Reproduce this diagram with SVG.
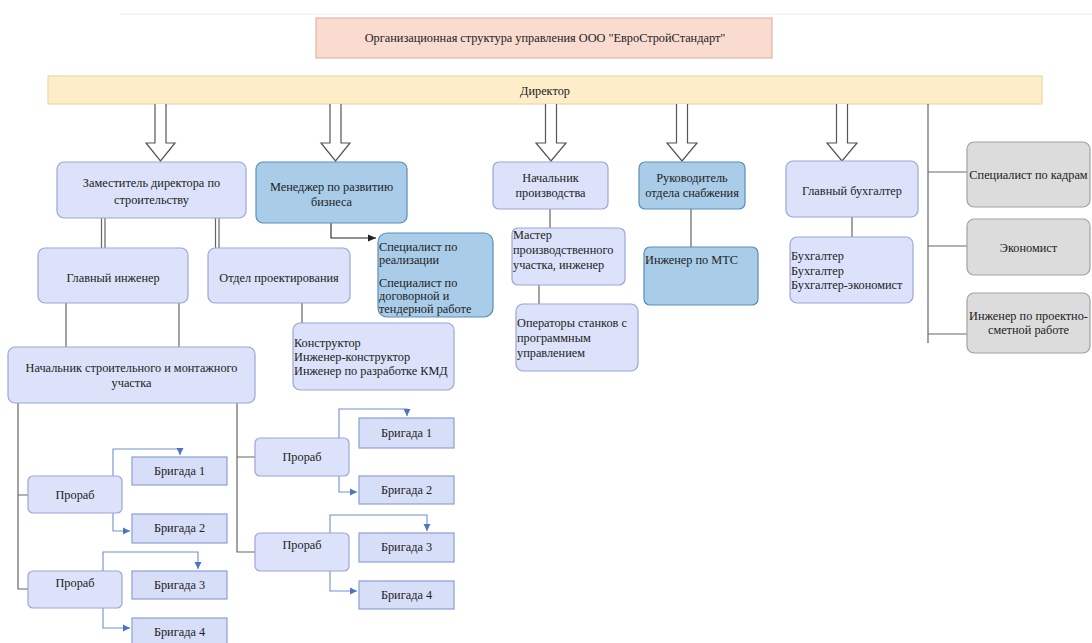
<svg xmlns="http://www.w3.org/2000/svg" width="1092" height="643" viewBox="0 0 1092 643" font-family="'Liberation Serif', serif" font-size="12.3">
<defs>
<style>
text{font-family:'Liberation Serif',serif;font-size:12.3px;fill:#222}
.c{text-anchor:middle}
.lav{fill:#dce2fa;stroke:#9ba6d9;stroke-width:1.2}
.blu{fill:#a9cce8;stroke:#5a8db8;stroke-width:1.2}
.gry{fill:#dcdcdc;stroke:#a2a2a2;stroke-width:1.2}
.brg{fill:#d7def7;stroke:#8e9ed6;stroke-width:1.2}
.ln{fill:none;stroke:#666;stroke-width:1.2}
.bl{fill:none;stroke:#6f8fcf;stroke-width:1.1}
.hol{fill:#fff;stroke:#555;stroke-width:1.2}
</style>
<marker id="ab" markerWidth="8" markerHeight="8" refX="7" refY="4" orient="auto" markerUnits="userSpaceOnUse"><path d="M0,0.5 L7,4 L0,7.5 Z" fill="#4f74c0"/></marker>
<marker id="ak" markerWidth="9" markerHeight="8" refX="8" refY="4" orient="auto" markerUnits="userSpaceOnUse"><path d="M0,0.5 L8,4 L0,7.5 Z" fill="#222"/></marker>
</defs>
<rect width="1092" height="643" fill="#fff"/>
<line x1="120" y1="14" x2="1092" y2="14" stroke="#ececec" stroke-width="1"/>

<g id="title"><rect x="316" y="18" width="456" height="40" fill="#fadbd0" stroke="#e3b3a3" stroke-width="1.2"/><text class="c" x="545" y="42">Организационная структура управления ООО "ЕвроСтройСтандарт"</text></g>
<g id="director"><rect x="48" y="76" width="994" height="28" fill="#fdeec9" stroke="#efd7a8" stroke-width="1.2"/><text class="c" x="545" y="95">Директор</text></g>

<g id="connectors">
<path class="hol" d="M155,104 V143 H146 L160.5,161 L175,143 H166 V104"/>
<path class="hol" d="M330,104 V143 H321 L335.5,161 L350,143 H341 V104"/>
<path class="hol" d="M545.5,104 V143 H536 L551,161 L566,143 H556.5 V104"/>
<path class="hol" d="M676.5,104 V143 H667 L682,161 L697,143 H687.5 V104"/>
<path class="hol" d="M836.5,104 V143 H827 L842,161 L857,143 H847.5 V104"/>
<path class="ln" d="M928,104 V343 M928,172 H967 M928,246 H967 M928,334 H967"/>
<path class="ln" d="M101.5,218 V248 M105,218 V248 M215.5,218 V248 M219,218 V248"/>
<path class="ln" d="M66,303 V347 M179,303 V347 M302,303 V323"/>
<path d="M331,223 V238 H376" fill="none" stroke="#222" stroke-width="1.1" marker-end="url(#ak)"/>
<path class="ln" d="M550,209 V228 M539,285 V304 M691,209 V247 M852,217 V237"/>
<path class="ln" d="M18,403 V589 H28 M18,495 H28 M237,403 V552 H255 M237,457 H255" stroke-width="1" stroke="#8a8a8a"/>
<path class="bl" d="M113,476 V449 H180 V455" marker-end="url(#ab)"/>
<path class="bl" d="M113,513 V531 H130" marker-end="url(#ab)"/>
<path class="bl" d="M103,571 V552 H198 V569" marker-end="url(#ab)"/>
<path class="bl" d="M103,608 V628 H130" marker-end="url(#ab)"/>
<path class="bl" d="M339,438 V409 H407 V416" marker-end="url(#ab)"/>
<path class="bl" d="M339,476 V492 H357" marker-end="url(#ab)"/>
<path class="bl" d="M330,533 V515 H427 V531" marker-end="url(#ab)"/>
<path class="bl" d="M330,571 V591 H357" marker-end="url(#ab)"/>
</g>

<g id="n-zam"><rect class="lav" x="57" y="162" width="189" height="56" rx="7"/><text class="c" x="151.5" y="187">Заместитель директора по</text><text class="c" x="151.5" y="204">строительству</text></g>
<g id="n-manager"><rect class="blu" x="256" y="162" width="151" height="61" rx="7"/><text class="c" x="331.5" y="191">Менеджер по развитию</text><text class="c" x="331.5" y="206">бизнеса</text></g>
<g id="n-nachprod"><rect class="lav" x="493" y="162" width="115" height="47" rx="6"/><text class="c" x="550.5" y="182">Начальник</text><text class="c" x="550.5" y="197">производства</text></g>
<g id="n-snab"><rect class="blu" x="639" y="162" width="106" height="47" rx="6"/><text class="c" x="692" y="182">Руководитель</text><text class="c" x="692" y="197">отдела снабжения</text></g>
<g id="n-glbuh"><rect class="lav" x="786" y="161" width="132" height="56" rx="7"/><text class="c" x="852" y="195">Главный бухгалтер</text></g>
<g id="n-kadry"><rect class="gry" x="967" y="142" width="123" height="65" rx="7"/><text class="c" x="1028.5" y="179">Специалист по кадрам</text></g>
<g id="n-econ"><rect class="gry" x="967" y="219" width="123" height="56" rx="7"/><text class="c" x="1028.5" y="252">Экономист</text></g>
<g id="n-smeta"><rect class="gry" x="967" y="293" width="123" height="60" rx="7"/><text class="c" x="1028.5" y="320">Инженер по проектно-</text><text class="c" x="1028.5" y="334">сметной работе</text></g>
<g id="n-buh"><rect class="lav" x="790" y="237" width="123" height="66" rx="7"/><text x="791" y="260">Бухгалтер</text><text x="791" y="275">Бухгалтер</text><text x="791" y="289">Бухгалтер-экономист</text></g>
<g id="n-mts"><rect class="blu" x="644" y="247" width="114" height="58" rx="6"/><text x="645" y="264">Инженер по МТС</text></g>
<g id="n-master"><rect class="lav" x="512" y="228" width="113" height="57" rx="6"/><text x="513" y="239">Мастер</text><text x="513" y="254">производственного</text><text x="513" y="269">участка, инженер</text></g>
<g id="n-oper"><rect class="lav" x="516" y="304" width="122" height="67" rx="7"/><text x="517" y="327">Операторы станков с</text><text x="517" y="342">программным</text><text x="517" y="357">управлением</text></g>
<g id="n-spec"><rect class="blu" x="378" y="233" width="115" height="84" rx="9"/><text x="379" y="251">Специалист по</text><text x="379" y="264">реализации</text><text x="379" y="287">Специалист по</text><text x="379" y="300">договорной и</text><text x="379" y="313">тендерной работе</text></g>
<g id="n-glinzh"><rect class="lav" x="38" y="248" width="150" height="55" rx="7"/><text class="c" x="113" y="282">Главный инженер</text></g>
<g id="n-proekt"><rect class="lav" x="208" y="248" width="142" height="55" rx="7"/><text class="c" x="279" y="282">Отдел проектирования</text></g>
<g id="n-konstr"><rect class="lav" x="293" y="323" width="161" height="67" rx="7"/><text x="294" y="347">Конструктор</text><text x="294" y="361">Инженер-конструктор</text><text x="294" y="375">Инженер по разработке КМД</text></g>
<g id="n-nachuch"><rect class="lav" x="8" y="347" width="247" height="56" rx="7"/><text class="c" x="131.5" y="372">Начальник строительного и монтажного</text><text class="c" x="131.5" y="387">участка</text></g>

<g id="n-prorab-l1"><rect class="lav" x="28" y="476" width="94" height="37" rx="5"/><text class="c" x="75" y="499">Прораб</text></g>
<g id="n-prorab-l2"><rect class="lav" x="28" y="571" width="94" height="37" rx="5"/><text class="c" x="75" y="587">Прораб</text></g>
<g id="n-prorab-m1"><rect class="lav" x="255" y="438" width="94" height="38" rx="5"/><text class="c" x="302" y="461">Прораб</text></g>
<g id="n-prorab-m2"><rect class="lav" x="255" y="533" width="94" height="38" rx="5"/><text class="c" x="302" y="549">Прораб</text></g>

<g id="n-br-l1"><rect class="brg" x="132" y="457" width="95" height="28"/><text class="c" x="179.5" y="475">Бригада 1</text></g>
<g id="n-br-l2"><rect class="brg" x="132" y="514" width="95" height="29"/><text class="c" x="179.5" y="532">Бригада 2</text></g>
<g id="n-br-l3"><rect class="brg" x="132" y="571" width="95" height="28"/><text class="c" x="179.5" y="589">Бригада 3</text></g>
<g id="n-br-l4"><rect class="brg" x="132" y="618" width="95" height="28"/><text class="c" x="179.5" y="636">Бригада 4</text></g>
<g id="n-br-m1"><rect class="brg" x="359" y="418" width="95" height="30"/><text class="c" x="406.5" y="437">Бригада 1</text></g>
<g id="n-br-m2"><rect class="brg" x="359" y="476" width="95" height="28"/><text class="c" x="406.5" y="494">Бригада 2</text></g>
<g id="n-br-m3"><rect class="brg" x="359" y="533" width="95" height="29"/><text class="c" x="406.5" y="551">Бригада 3</text></g>
<g id="n-br-m4"><rect class="brg" x="359" y="581" width="95" height="28"/><text class="c" x="406.5" y="599">Бригада 4</text></g>
</svg>
